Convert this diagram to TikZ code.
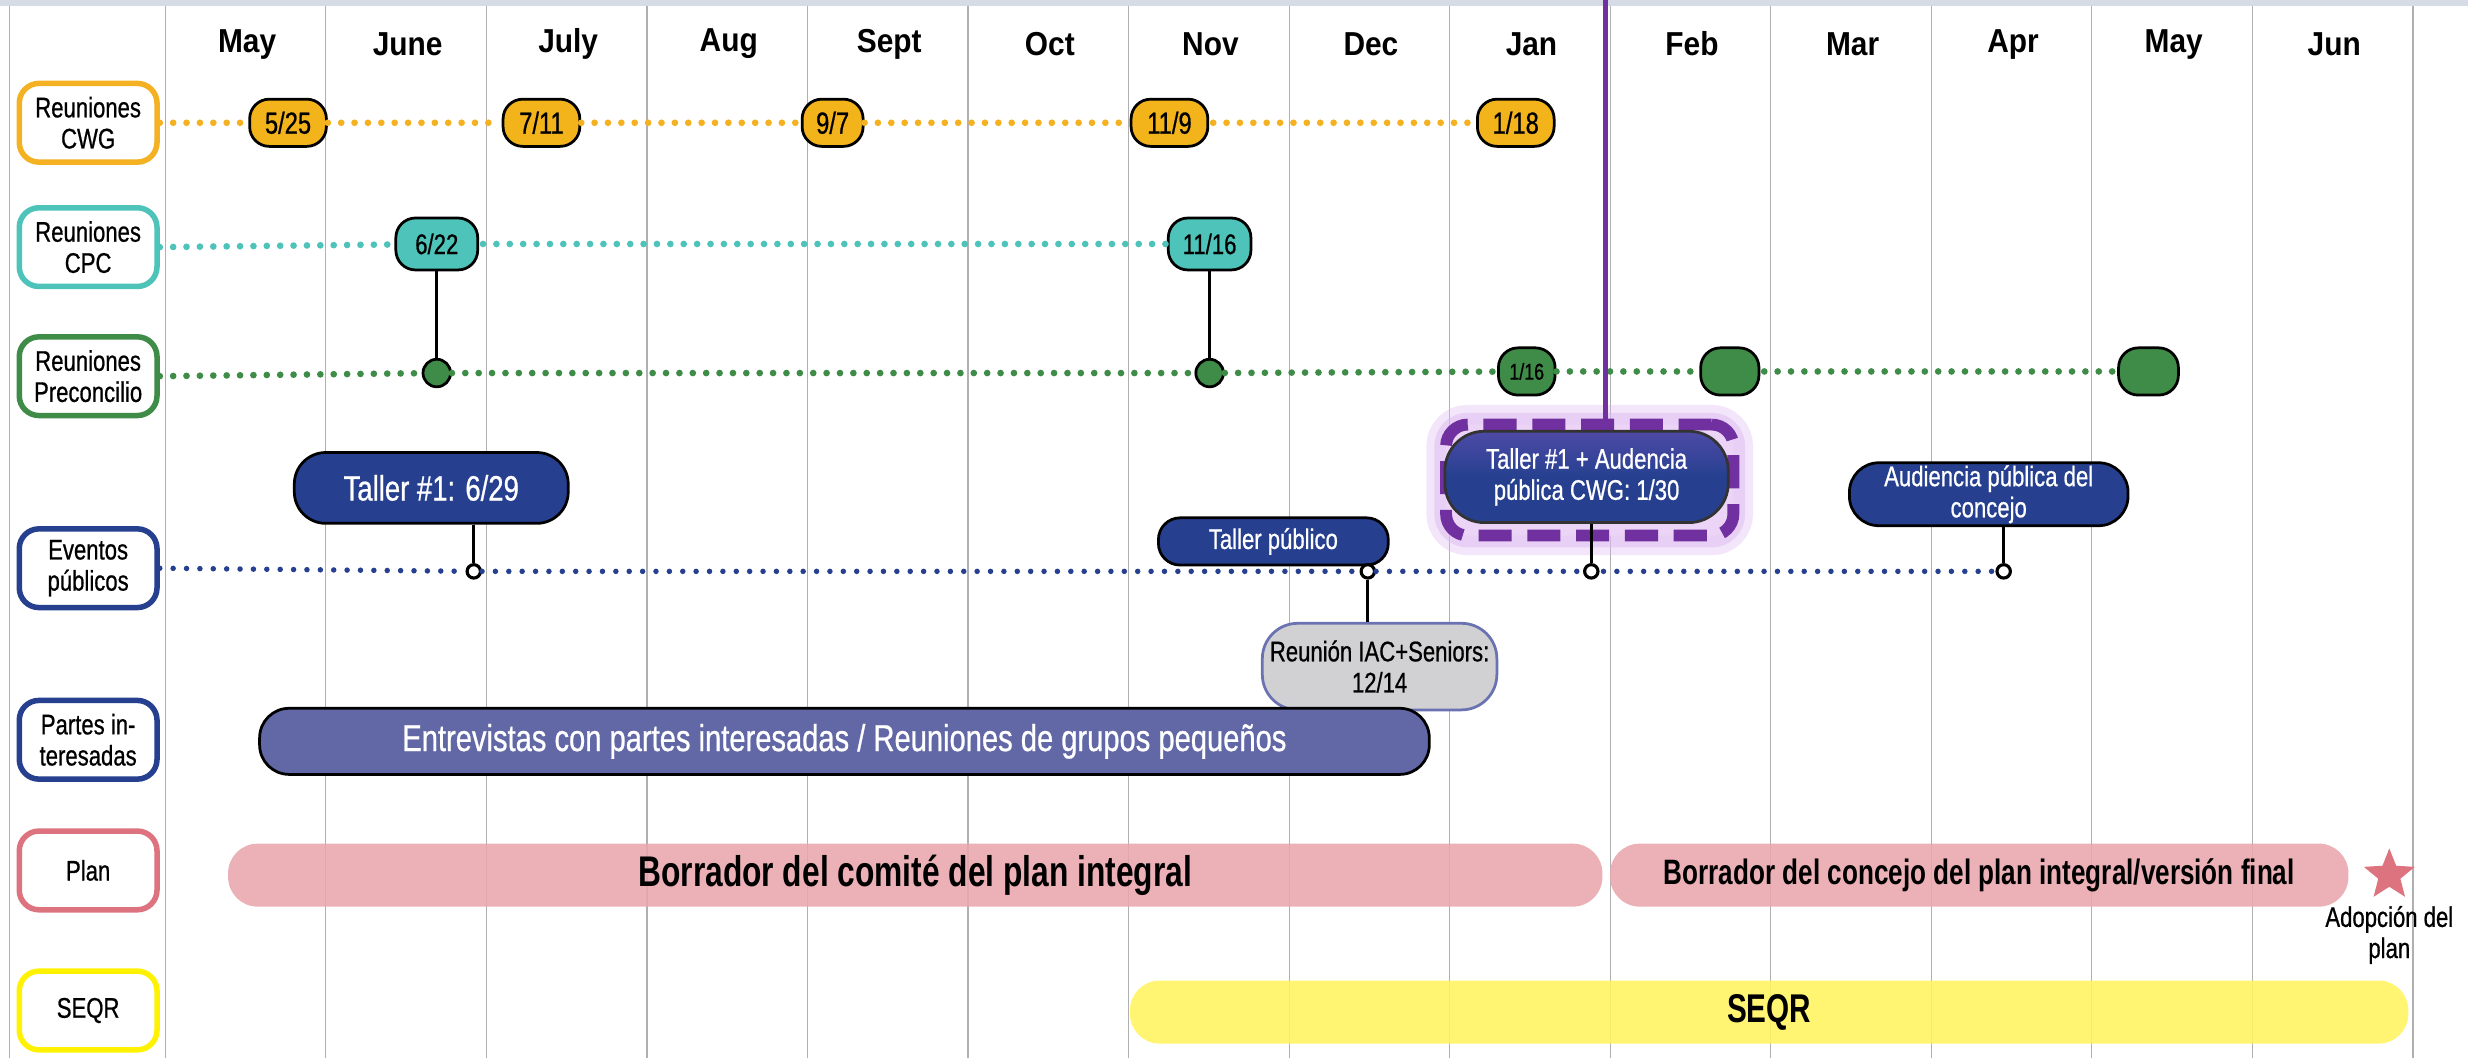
\documentclass[tikz,border=0pt]{standalone}
\usepackage{fontspec}
\setmainfont{Liberation Sans}[FakeStretch=0.78, FakeBold=0.7]
\newfontfamily\monthfont{Liberation Sans}[FakeStretch=0.9]
\newfontfamily\heavyfont{Liberation Sans}[FakeStretch=0.74]
\usetikzlibrary{shapes.geometric}

\definecolor{cwgc}{HTML}{F4B223}
\definecolor{cwgfill}{HTML}{F2B31B}
\definecolor{cpcc}{HTML}{4EC3BA}
\definecolor{prec}{HTML}{3F8C48}
\definecolor{evc}{HTML}{26408F}
\definecolor{pic}{HTML}{6268A6}
\definecolor{planc}{HTML}{DC737E}
\definecolor{planbar}{HTML}{E8A6AD}
\definecolor{seqrc}{HTML}{FFF200}
\definecolor{seqrbar}{HTML}{FFF45E}
\definecolor{hlc}{HTML}{7030A0}
\definecolor{glowc}{HTML}{DDB8F0}
\definecolor{gridc}{HTML}{B0B0B0}
\definecolor{topband}{HTML}{D6DCE5}
\definecolor{reuc}{HTML}{D1D1D3}
\definecolor{reuborder}{HTML}{6A72B2}
\definecolor{hltopc}{HTML}{4E4AA6}

\tikzset{
  gridline/.style={draw=gridc, line width=0.03cm},
  monthlbl/.style={font=\monthfont\bfseries\fontsize{24}{28}\selectfont},
  rowlabel/.style={draw=#1, line width=0.14cm, fill=white, rounded corners=0.5cm,
    minimum width=3.5cm, minimum height=2.0cm, align=center, inner sep=0pt,
    font=\fontsize{20.5}{22.5}\selectfont},
  datepill/.style={draw=black, line width=0.07cm, fill=#1, rounded corners=0.5cm,
    minimum width=1.95cm, minimum height=1.2cm, inner sep=0pt,
    font=\fontsize{22}{24}\selectfont},
  meetdot/.style={circle, draw=black, line width=0.07cm, fill=#1, minimum size=0.7cm, inner sep=0pt},
  evpin/.style={circle, draw=black, line width=0.08cm, fill=white, minimum size=0.34cm, inner sep=0pt},
  eventpill/.style={draw=black, line width=0.07cm, fill=evc, text=white, align=center,
    inner sep=0pt, font=\fontsize{20.5}{22.5}\selectfont},
  rowdots/.style={draw=#1, line width=0.17cm, line cap=round, dash pattern=on 0pt off 0.34cm,
    shorten <=0.1cm},
  stem/.style={draw=black, line width=0.07cm},
  phasebar/.style={fill=#1, fill opacity=0.88, text opacity=1, rounded corners=0.75cm,
    minimum height=1.6cm, inner sep=0pt},
  hlbox/.style={draw=hlc, line width=0.3cm, dash pattern=on 0.84cm off 0.4cm,
    rounded corners=0.55cm, minimum width=7.3cm, minimum height=2.82cm, fill=glowc!60,
    preaction={draw=glowc, line width=1.0cm, opacity=0.35, solid},
    preaction={draw=glowc, line width=0.6cm, opacity=0.5, solid}}
}

\begin{document}
\begin{tikzpicture}[x=0.04cm, y=-0.04cm]
\useasboundingbox (0,0) rectangle (1568,672);
\fill[topband] (0,0) rectangle (1568,4);
\draw[gridline] (6,4) -- (6,672);
\foreach \k in {0,...,14}
  \draw[gridline] ({105+102*\k},4) -- ({105+102*\k},672);
\foreach \m [count=\i from 0] in {May,June,July,Aug,Sept,Oct,Nov,Dec,Jan,Feb,Mar,Apr,May,Jun}
  \node[monthlbl] (m\i) at ({157+102*\i},28) {\m};

% row labels
\node[rowlabel=cwgc] (cwg) at (56,78) {Reuniones\\CWG};
\node[rowlabel=cpcc] (cpc) at (56,157) {Reuniones\\CPC};
\node[rowlabel=prec] (pre) at (56,239) {Reuniones\\Preconcilio};
\node[rowlabel=evc] (ev) at (56,361) {Eventos\\públicos};
\node[rowlabel=evc] (pi) at (56,470) {Partes in-\\teresadas};
\node[rowlabel=planc] (plan) at (56,553) {Plan};
\node[rowlabel=seqrc] (seqr) at (56,642) {SEQR};

% CWG
\node[datepill=cwgfill] (c525) at (183,78) {5/25};
\node[datepill=cwgfill] (c711) at (344,78) {7/11};
\node[datepill=cwgfill, minimum width=1.55cm] (c97) at (529,78) {9/7};
\node[datepill=cwgfill] (c119) at (743,78) {11/9};
\node[datepill=cwgfill] (c118) at (963,78) {1/18};
\draw[rowdots=cwgc] (cwg.east) -- (c525) -- (c711) -- (c97) -- (c119) -- (c118);

% CPC
\node[datepill=cpcc, minimum width=2.08cm, minimum height=1.32cm, font=\fontsize{20.5}{22.5}\selectfont] (p622) at (277.5,155) {6/22};
\node[datepill=cpcc, minimum width=2.1cm, minimum height=1.32cm, font=\fontsize{20.5}{22.5}\selectfont] (p1116) at (768.5,155) {11/16};
\draw[rowdots=cpcc] (cpc.east) -- (p622) -- (p1116);

% Preconcilio
\node[meetdot=prec] (g622) at (277.5,237) {};
\node[meetdot=prec] (g1116) at (768.5,237) {};
\node[datepill=prec, minimum width=1.44cm, font=\fontsize{16.5}{18}\selectfont] (g116) at (970,236) {1/16};
\node[datepill=prec, minimum width=1.48cm] (gfeb) at (1099,236) {};
\node[datepill=prec, minimum width=1.52cm] (gmay) at (1365,236) {};
\draw[rowdots=prec] (pre.east) -- (g622) -- (g1116) -- (g116) -- (gfeb) -- (gmay);
\draw[stem] (p622) -- (g622);
\draw[stem] (p1116) -- (g1116);

% eventos publicos
\node[eventpill, minimum width=6.96cm, minimum height=1.8cm, rounded corners=0.8cm,
  font=\fontsize{25.5}{28}\selectfont] (t629) at (274,310) {Taller \#1: 6/29};
\node[eventpill, minimum width=5.84cm, minimum height=1.2cm, rounded corners=0.55cm] (tpub) at (809,344) {Taller público};
\node[draw=reuborder, line width=0.07cm, fill=reuc, rounded corners=0.9cm, minimum width=5.96cm,
  minimum height=2.2cm, align=center, inner sep=0pt, font=\fontsize{20.5}{22.5}\selectfont]
  (reu) at (876.5,423.5) {Reunión IAC+Seniors:\\12/14};
\node[hlbox] (hl) at (1010,305) {};
\coordinate (hltop) at (1020,0);
\draw[hlc, line width=0.12cm] (hltop) -- (hltop |- hl.north);
\node[eventpill, draw=black!80, minimum width=7.2cm, minimum height=2.32cm, rounded corners=1cm,
  top color=hltopc, bottom color=evc, middle color=evc] (t130) at (1008,303) {Taller \#1 + Audencia\\pública CWG: 1/30};
\node[eventpill, minimum width=7.08cm, minimum height=1.6cm, rounded corners=0.75cm] (aud) at (1263.5,314) {Audiencia pública del\\concejo};
\node[evpin] (e629) at (301,363) {};
\node[evpin] (e1214) at (869,363) {};
\node[evpin] (e130) at (1011,363) {};
\node[evpin] (econ) at (1273,363) {};
\draw[rowdots=evc, line width=0.14cm] (ev.east) -- (e629) -- (e1214) -- (e130) -- (econ);
\draw[stem] (t629.south -| e629) -- (e629);
\draw[stem] (e1214) -- (reu.north -| e1214);
\draw[stem] (e130) -- (t130.south -| e130);
\draw[stem] (aud.south -| econ) -- (econ);

% partes interesadas
\node[eventpill, fill=pic, minimum width=29.72cm, minimum height=1.68cm, rounded corners=0.75cm,
  font=\fontsize{27}{30}\selectfont] (ent) at (536.5,471) {Entrevistas con partes interesadas / Reuniones de grupos pequeños};

% plan
\node[phasebar=planbar, minimum width=34.92cm, font=\heavyfont\bfseries\fontsize{31}{34}\selectfont]
  (draft1) at (581.5,556) {Borrador del comité del plan integral};
\node[phasebar=planbar, minimum width=18.76cm, font=\heavyfont\bfseries\fontsize{25.5}{28}\selectfont]
  (draft2) at (1257.5,556) {Borrador del concejo del plan integral/versión final};
\node[star, star points=5, star point ratio=2.3, fill=planc, minimum size=1.36cm, inner sep=0pt] (adopt) at (1518,556) {};
\node[align=center, font=\fontsize{20.5}{22.5}\selectfont] (adoptlbl) at (1518,594) {Adopción del\\plan};

% SEQR
\node[phasebar=seqrbar, minimum width=32.48cm, font=\heavyfont\bfseries\fontsize{29}{32}\selectfont]
  (seqrphase) at (1124,643) {SEQR};
\end{tikzpicture}
\end{document}
